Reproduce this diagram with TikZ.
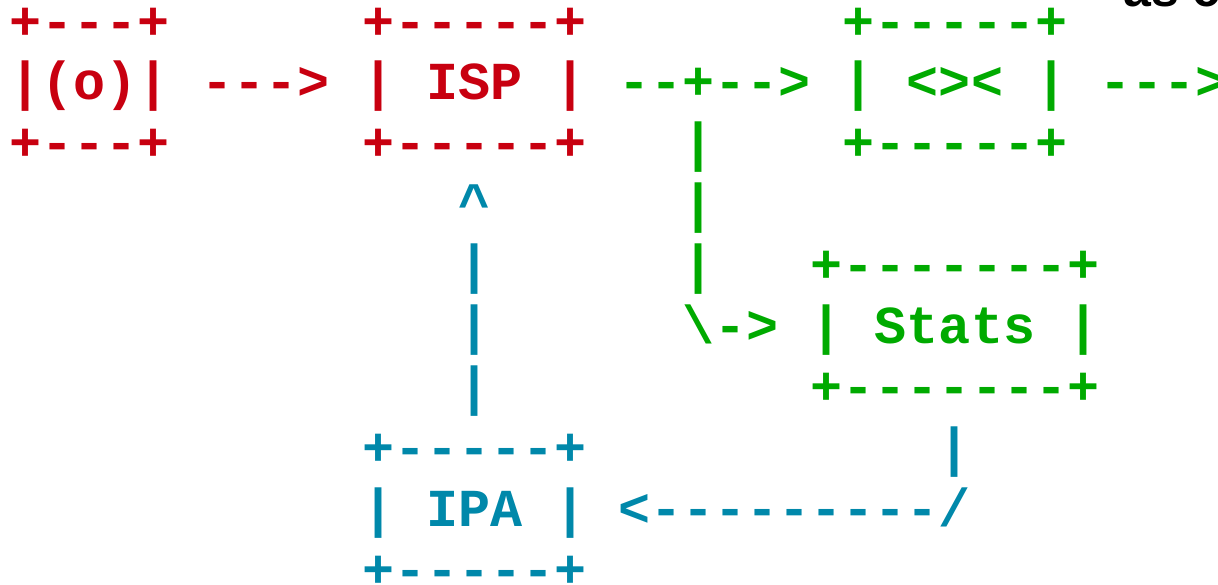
\documentclass[tikz,border=0pt]{standalone}
\usepackage{fontspec}
\setmonofont{Liberation Mono}
\newfontfamily\cutsans{Liberation Sans}
\definecolor{asred}{RGB}{200,0,16}
\definecolor{asgreen}{RGB}{0,170,0}
\definecolor{asblue}{RGB}{0,136,170}
\tikzset{
  asc/.style={anchor=base west, inner sep=0pt, outer sep=0pt,
    font=\ttfamily\bfseries\fontsize{53.42}{60.9}\selectfont},
  rd/.style={asc, text=asred},
  gr/.style={asc, text=asgreen},
  bl/.style={asc, text=asblue},
}
% \cell{name}{style}{column}{row}{text}
\newcommand\cell[5]{\node[#2] (#1) at ({9.5+32.05*#3},{39.1+60.9*#4}) {#5};}
\begin{document}
\begin{tikzpicture}[x=1pt,y=-1pt]
\clip (0,0) rectangle (1218,585);
\useasboundingbox (0,0) rectangle (1218,585);
% cut-off text at the top edge
\node[anchor=base west, inner sep=0pt, font=\cutsans\bfseries\fontsize{50}{60}\selectfont] (cut) at (1123,7) {as c};
% row 0
\cell{antT}{rd}{0}{0}{+---+}
\cell{ispT}{rd}{11}{0}{+-----+}
\cell{fishT}{gr}{26}{0}{+-----+}
% row 1
\cell{antM}{rd}{0}{1}{|(o)|}
\cell{a1}{rd}{6}{1}{--->}
\cell{ispM}{rd}{11}{1}{| ISP |}
\cell{a2}{gr}{19}{1}{--+-->}
\cell{fishM}{gr}{26}{1}{| <>< |}
\cell{a3}{gr}{34}{1}{--->}
% row 2
\cell{antB}{rd}{0}{2}{+---+}
\cell{ispB}{rd}{11}{2}{+-----+}
\cell{v1}{gr}{21}{2}{|}
\cell{fishB}{gr}{26}{2}{+-----+}
% row 3
\cell{up}{bl}{14}{3}{\textasciicircum}
\cell{v2}{gr}{21}{3}{|}
% row 4
\cell{u1}{bl}{14}{4}{|}
\cell{v3}{gr}{21}{4}{|}
\cell{statT}{gr}{25}{4}{+-------+}
% row 5
\cell{u2}{bl}{14}{5}{|}
\cell{a4}{gr}{21}{5}{\textbackslash->}
\cell{statM}{gr}{25}{5}{| Stats |}
% row 6
\cell{u3}{bl}{14}{6}{|}
\cell{statB}{gr}{25}{6}{+-------+}
% row 7
\cell{ipaT}{bl}{11}{7}{+-----+}
\cell{d1}{bl}{29}{7}{|}
% row 8
\cell{ipaM}{bl}{11}{8}{| IPA |}
\cell{a5}{bl}{19}{8}{<---------/}
% row 9
\cell{ipaB}{bl}{11}{9}{+-----+}
\end{tikzpicture}
\end{document}
